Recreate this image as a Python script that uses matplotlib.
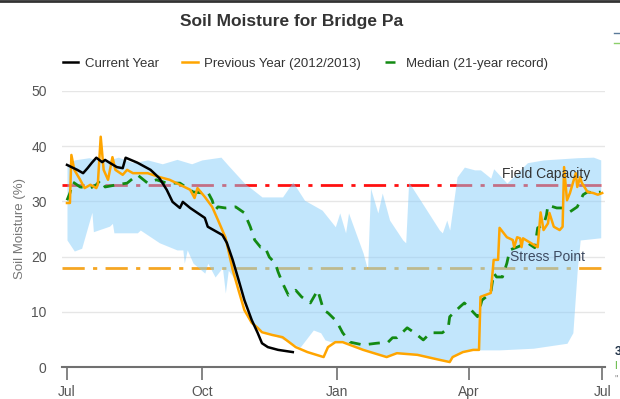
import matplotlib
matplotlib.use("Agg")
import matplotlib.pyplot as plt
from matplotlib.lines import Line2D
import numpy as np

# days counted from Jul 1
tick_days = [0, 92, 184, 274, 365]
tick_labels = ["Jul", "Oct", "Jan", "Apr", "Jul"]

field_capacity = 33
stress_point = 18

# current year
cur_days = [0, 7, 11, 14, 17, 20, 24, 26, 29, 34, 38, 40, 48, 57, 63, 68, 72, 77, 79, 84,
            89, 94, 96, 106, 109, 113, 117, 121, 126, 130, 133, 137, 144, 154]
cur_vals = [36.6, 35.7, 35.1, 36.0, 37.0, 37.9, 37.1, 37.5, 37.0, 36.2, 36.0, 37.9, 37.0, 35.7,
            34.2, 32.1, 29.9, 28.8, 29.9, 28.8, 27.9, 27.0, 25.4, 23.9, 22.5, 19.4, 15.8, 12.1,
            8.5, 6.2, 4.3, 3.6, 3.1, 2.7]

# previous year (2012/2013)
prev_days = [0, 2, 3, 5, 9, 12, 16, 20, 21, 23, 25, 28, 31, 33, 38, 41, 45, 55, 63, 70,
             77, 84, 87, 89, 94, 99, 103, 108, 110, 113, 117, 121, 126, 130, 133, 140, 147,
             156, 164, 175, 178, 183, 188, 202, 218, 225, 239, 254, 261, 263, 270, 277, 281,
             282, 289, 291, 294, 295, 300, 304, 305, 307, 309, 310, 311, 316, 321, 323, 325,
             328, 329, 332, 336, 338, 339, 341, 343, 347, 348, 350, 351, 355, 359, 362, 365]
prev_vals = [29.7, 29.7, 38.4, 35.7, 33.9, 32.4, 33.0, 32.4, 33.0, 41.7, 35.7, 33.9, 38.0,
             35.7, 34.8, 35.7, 35.1, 35.1, 34.4, 33.9, 33.0, 32.1, 30.6, 32.4, 30.8, 29.0,
             26.6, 23.5, 21.2, 17.6, 13.9, 10.3, 8.0, 7.1, 6.3, 5.8, 5.4, 3.6, 2.7, 1.8, 3.6,
             4.5, 4.5, 3.1, 1.8, 2.5, 2.2, 1.3, 0.9, 1.8, 2.7, 3.1, 3.1, 12.7, 13.4, 19.4,
             19.4, 25.2, 23.5, 23.0, 21.7, 23.5, 23.3, 21.7, 23.3, 22.5, 21.7, 28.0, 24.8,
             26.0, 27.9, 25.4, 24.8, 25.4, 36.2, 30.2, 31.5, 35.1, 32.6, 34.4, 33.4, 31.7,
             31.5, 31.2, 31.5]

# median (21-year record)
med_days = [0, 2, 4, 9, 16, 20, 23, 26, 34, 41, 48, 55, 61, 68, 77, 86, 93, 96, 99, 101,
            103, 108, 115, 121, 125, 128, 132, 135, 138, 142, 144, 147, 151, 156, 160, 166,
            171, 175, 178, 183, 184, 188, 193, 202, 211, 219, 222, 225, 232, 237, 243, 248,
            256, 260, 261, 268, 271, 275, 280, 283, 289, 291, 293, 297, 300, 302, 307, 314,
            319, 321, 325, 327, 328, 334, 338, 343, 348, 352, 355, 360, 364]
med_vals = [30.2, 31.5, 33.5, 32.6, 32.4, 33.0, 33.9, 32.6, 33.0, 33.3, 34.8, 33.3, 33.9,
            33.3, 33.3, 31.7, 31.5, 31.7, 30.2, 28.4, 29.0, 28.8, 29.0, 27.9, 25.4, 23.0,
            21.7, 21.7, 19.9, 18.8, 17.2, 15.2, 13.0, 13.9, 12.7, 11.6, 13.9, 10.3, 9.8, 8.5,
            8.2, 6.2, 4.5, 4.0, 4.3, 4.5, 5.3, 5.3, 7.1, 6.2, 4.9, 6.2, 6.2, 7.1, 9.1, 10.9,
            11.6, 10.5, 9.1, 12.1, 13.4, 17.0, 16.3, 16.3, 18.8, 21.2, 21.7, 22.5, 21.6,
            25.2, 25.7, 27.5, 29.3, 28.8, 28.8, 28.1, 29.0, 31.2, 31.7, 31.5, 31.7]

# historical range (upper / lower edge)
hi_days = [0, 5, 15, 25, 35, 45, 55, 65, 75, 85, 92, 105, 110, 121, 133, 147, 154, 162,
           174, 183, 186, 190, 192, 202, 205, 207, 212, 215, 220, 229, 231, 233, 241, 254,
           256, 259, 261, 266, 271, 278, 282, 289, 291, 300, 314, 325, 348, 359, 364]
hi_vals = [36.5, 37.5, 37.9, 37.2, 38.0, 37.0, 37.5, 36.8, 37.6, 36.8, 37.5, 38.0, 36.5,
           33.3, 30.8, 30.8, 33.5, 30.2, 28.4, 25.4, 27.9, 24.3, 27.9, 20.6, 17.6, 32.4,
           27.9, 31.5, 26.6, 23.0, 22.5, 33.5, 30.2, 24.8, 24.3, 26.6, 24.8, 34.4, 36.2,
           35.7, 35.7, 34.2, 35.9, 33.3, 37.0, 37.5, 37.9, 38.0, 37.5]
lo_days = [0, 5, 10, 17, 18, 29, 31, 32, 48, 50, 63, 75, 79, 80, 82, 86, 94, 96, 101, 106,
           108, 110, 117, 121, 126, 128, 144, 159, 168, 173, 176, 181, 188, 202, 218, 225,
           239, 254, 261, 263, 270, 277, 282, 295, 318, 341, 345, 348, 350, 364]
lo_vals = [23.0, 21.0, 21.5, 28.0, 24.5, 25.5, 26.0, 24.3, 24.3, 24.8, 22.5, 21.2, 21.2,
           18.8, 21.2, 18.8, 17.0, 18.8, 16.3, 18.0, 13.4, 17.5, 15.0, 12.0, 8.5, 7.2, 5.4,
           3.6, 6.7, 6.2, 4.9, 4.5, 4.6, 3.2, 2.0, 2.6, 2.3, 1.5, 1.0, 1.9, 2.8, 3.1, 3.1,
           3.1, 3.4, 4.3, 6.2, 17.6, 23.0, 23.4]

plt.rcParams['font.family'] = ['Liberation Sans', 'DejaVu Sans']

fig = plt.figure(figsize=(6.2, 3.99), dpi=100)
ax = fig.add_axes([0.1, 0.0802, 0.876, 0.692])

# reference lines sit under the band so the band tints them
ax.axhline(field_capacity, color='#ff1010', lw=2, ls=(0, (8, 3, 1.5, 3)), zorder=1)
ax.axhline(stress_point, color='#f5a623', lw=2, ls=(0, (8, 3, 1.5, 3)), zorder=1)

xs = sorted(set(hi_days) | set(lo_days))
hi_i = np.interp(xs, hi_days, hi_vals)
lo_i = np.interp(xs, lo_days, lo_vals)
ax.fill_between(xs, lo_i, hi_i, color='#87cefa', alpha=0.5, lw=0, zorder=2)

ax.plot(med_days, med_vals, color='#138a13', lw=2, ls=(0, (4, 3)), zorder=3)
ax.plot(prev_days, prev_vals, color='#ffa500', lw=1.8, zorder=4)
ax.plot(cur_days, cur_vals, color='black', lw=1.8, zorder=5)

ax.text(357, field_capacity + 0.7, "Field Capacity", ha='right', va='bottom',
        fontsize=10, color='#333333', zorder=6)
ax.text(353, stress_point + 0.7, "Stress Point", ha='right', va='bottom',
        fontsize=10, color='#3d4a60', zorder=6)

ax.set_xlim(-3.4, 367)
ax.set_ylim(0, 50)
ax.set_yticks([0, 10, 20, 30, 40, 50])
ax.set_xticks(tick_days)
ax.set_xticklabels(tick_labels)
ax.grid(axis='y', color='#e6e6e6', lw=1)
ax.set_axisbelow(True)
for s in ['top', 'right', 'left']:
    ax.spines[s].set_visible(False)
ax.spines['bottom'].set_color('#707070')
ax.spines['bottom'].set_linewidth(1.5)
ax.tick_params(axis='y', length=0, labelsize=10, labelcolor='#555555', pad=11)
ax.tick_params(axis='x', length=9, width=1.2, color='#707070', labelsize=10,
               labelcolor='#555555', pad=4)
ax.set_ylabel("Soil Moisture (%)", fontsize=9.5, color='#777777', labelpad=4)

fig.text(0.47, 0.947, "Soil Moisture for Bridge Pa", ha='center', va='center',
         fontsize=12.5, fontweight='bold', color='#333333')

handles = [Line2D([], [], color='black', lw=1.8),
           Line2D([], [], color='#ffa500', lw=1.8),
           Line2D([], [], color='#138a13', lw=1.8, ls=(0, (4, 3)))]
labels = ["Current Year", "Previous Year (2012/2013)", "Median (21-year record)"]
fig.legend(handles, labels, loc='center', bbox_to_anchor=(0.493, 0.84), ncol=3,
           frameon=False, fontsize=9.5, handlelength=1.15, columnspacing=1.8,
           handletextpad=0.5, labelcolor='#333333')

# top border and clipped bits at the right edge of the screenshot
fig.add_artist(Line2D([0, 1], [0.998, 0.998], color='#333333', lw=2))
fig.add_artist(Line2D([0.99, 1], [0.917, 0.917], color='#5a7a99', lw=1))
fig.add_artist(Line2D([0.99, 1], [0.893, 0.893], color='#8ccf6a', lw=1))
fig.text(0.991, 0.118, "3", fontsize=9, fontweight='bold', color='#1c2e44', va='center')
fig.text(0.991, 0.083, "I", fontsize=7, color='#4caf2a', va='center')
fig.text(0.991, 0.048, "\"", fontsize=7, color='#888888', va='center')

fig.savefig("out.png", dpi=100)
